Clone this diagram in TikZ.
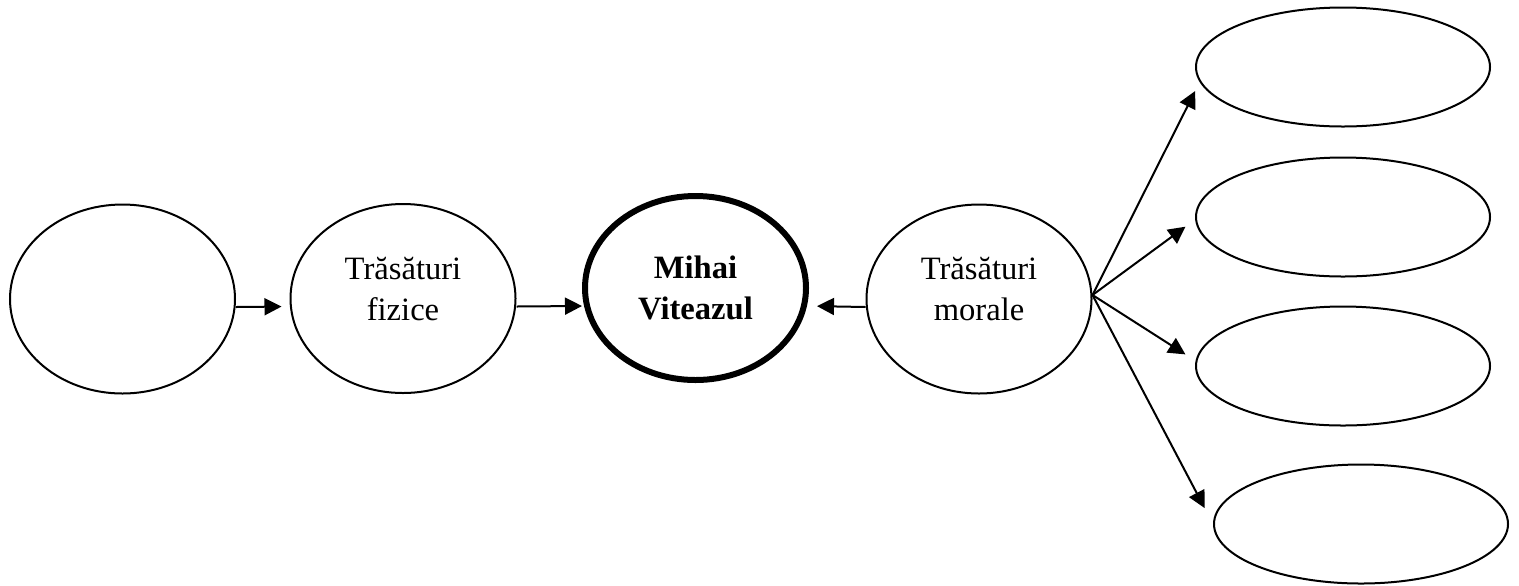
\documentclass[tikz,border=0pt]{standalone}
\usepackage{fontspec}
\setmainfont{Liberation Serif}
\usetikzlibrary{arrows.meta,positioning,shapes.geometric}

\begin{document}
\begin{tikzpicture}[x=0.5pt,y=-0.5pt,line width=1pt,
  >={Triangle[length=8.5pt,width=8.5pt]},
  oval/.style={ellipse,draw,inner sep=0pt,minimum width=112.5pt,minimum height=94.5pt,
    align=center,font=\fontsize{16.3}{20.5}\selectfont},
  trait/.style={oval,text depth=10.1pt},
  hero/.style={oval,line width=3pt,minimum width=110.5pt,minimum height=92pt,
    font=\fontsize{16.3}{20.5}\selectfont\bfseries},
  slot/.style={ellipse,draw,minimum width=147pt,minimum height=59.5pt}]

  \useasboundingbox (0,0) rectangle (1519,585);

  \node[oval] (blank) at (122.5,299) {};
  \node[trait] (fizice) at (403,298.5) {Trăsături\\fizice};
  \node[hero] (mihai) at (695.5,288) {Mihai\\Viteazul};
  \node[trait] (morale) at (979,299) {Trăsături\\morale};

  \node[slot] (m1) at (1343,67) {};
  \node[slot] (m2) at (1343,217) {};
  \node[slot] (m3) at (1343,366) {};
  \node[slot] (m4) at (1361,524) {};

  \coordinate (fan) at ([yshift=2pt]morale.east);

  \draw[->,shorten >=4pt] ([yshift=-4pt]blank.east) -- ([yshift=-4pt]fizice.west);
  \draw[->] ([yshift=-4pt]fizice.east) -- ([yshift=-9pt]mihai.west);
  \draw[->,shorten >=4pt] ([yshift=-4pt]morale.west) -- ([yshift=-9pt]mihai.east);

  \draw[->,shorten >=5pt] (fan) -- (m1.186);
  \draw[->,shorten >=6pt] (fan) -- (m2.181);
  \draw[->,shorten >=6pt] (fan) -- (m3.178);
  \draw[->,shorten >=9pt] (fan) -- (m4.west);
\end{tikzpicture}
\end{document}
